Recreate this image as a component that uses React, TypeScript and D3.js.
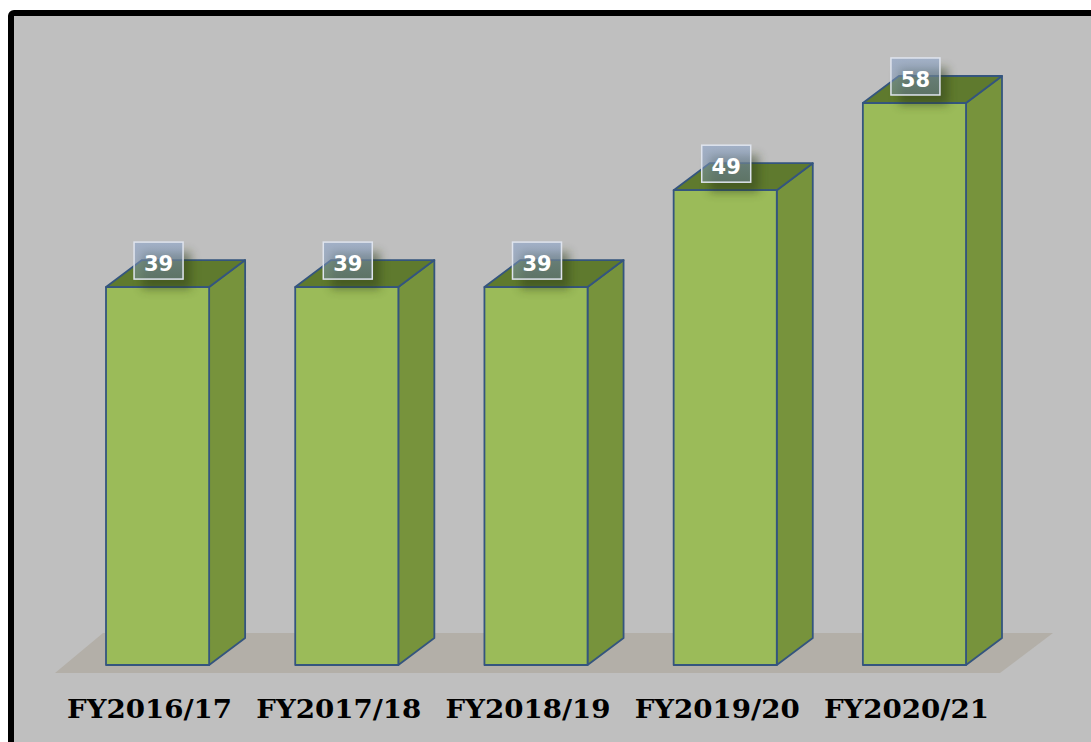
import React from "react";
import * as d3 from "d3";

const categories = ["FY2016/17", "FY2017/18", "FY2018/19", "FY2019/20", "FY2020/21"];
const values = [39, 39, 39, 49, 58];

const W = 1091;
const H = 742;
const DX = 36;
const DY = 27;

export default function App() {
  const x = d3
    .scaleBand<string>()
    .domain(categories)
    .range([106, 966])
    .paddingInner(0.455)
    .paddingOuter(0);
  const y = d3.scaleLinear().domain([0, 60]).range([665, 665 - 581.4]);
  const bw = x.bandwidth();
  const y0 = y(0);

  const floor = [
    [55, 673],
    [103, 633],
    [1053, 633],
    [1000, 673],
  ];

  return (
    <svg
      width={W}
      height={H}
      style={{ position: "absolute", left: 0, top: 0, display: "block" }}
    >
      <defs>
        <linearGradient id="lblGrad" x1="0" y1="0" x2="0" y2="1">
          <stop offset="0" stopColor="#8ea6cc" stopOpacity={0.6} />
          <stop offset="1" stopColor="#7a92b8" stopOpacity={0.45} />
        </linearGradient>
        <filter id="shadow" x="-50%" y="-50%" width="200%" height="200%">
          <feGaussianBlur stdDeviation="5" />
        </filter>
      </defs>
      <rect x={11} y={13} width={1200} height={800} rx={3} fill="#bfbfbf" stroke="#000" strokeWidth={6} />
      <polygon points={floor.map((p) => p.join(",")).join(" ")} fill="#b3afa8" />
      {categories.map((c, i) => {
        const x0 = x(c)!;
        const yt = y(values[i]);
        const front = `M${x0},${yt}L${x0 + bw},${yt}L${x0 + bw},${y0}L${x0},${y0}Z`;
        const side = `M${x0 + bw},${yt}L${x0 + bw + DX},${yt - DY}L${x0 + bw + DX},${y0 - DY}L${x0 + bw},${y0}Z`;
        const top = `M${x0},${yt}L${x0 + DX},${yt - DY}L${x0 + bw + DX},${yt - DY}L${x0 + bw},${yt}Z`;
        return (
          <g key={c}>
            <path d={side} fill="#77933c" stroke="#34557e" strokeWidth={1.8} strokeLinejoin="round" />
            <path d={top} fill="#5f7a2e" stroke="#34557e" strokeWidth={1.8} strokeLinejoin="round" />
            <path d={front} fill="#9bbb59" stroke="#34557e" strokeWidth={1.8} strokeLinejoin="round" />
          </g>
        );
      })}
      {categories.map((c, i) => {
        const cx = x(c)! + bw / 2 + 1;
        const yt = y(values[i]);
        const bh = 37;
        const bwl = 49;
        const by = yt - 8 - bh;
        return (
          <g key={"l" + c}>
            <rect
              x={cx - bwl / 2 + 8}
              y={by + 10}
              width={bwl}
              height={bh}
              fill="#2f3e18"
              opacity={0.5}
              filter="url(#shadow)"
            />
            <rect
              x={cx - bwl / 2}
              y={by}
              width={bwl}
              height={bh}
              fill="url(#lblGrad)"
              stroke="#dfe4ee"
              strokeWidth={1.5}
            />
            <text
              x={cx}
              y={by + 29}
              textAnchor="middle"
              fontFamily="DejaVu Sans"
              fontWeight="bold"
              fontSize={21}
              fill="#ffffff"
            >
              {values[i]}
            </text>
          </g>
        );
      })}
      {categories.map((c) => (
        <text
          key={"c" + c}
          x={x(c)! + bw / 2 - 8}
          y={718}
          textAnchor="middle"
          fontFamily="DejaVu Serif"
          fontWeight="bold"
          fontSize={26}
          textLength={165}
          lengthAdjust="spacingAndGlyphs"
          fill="#000"
        >
          {c}
        </text>
      ))}
    </svg>
  );
}
